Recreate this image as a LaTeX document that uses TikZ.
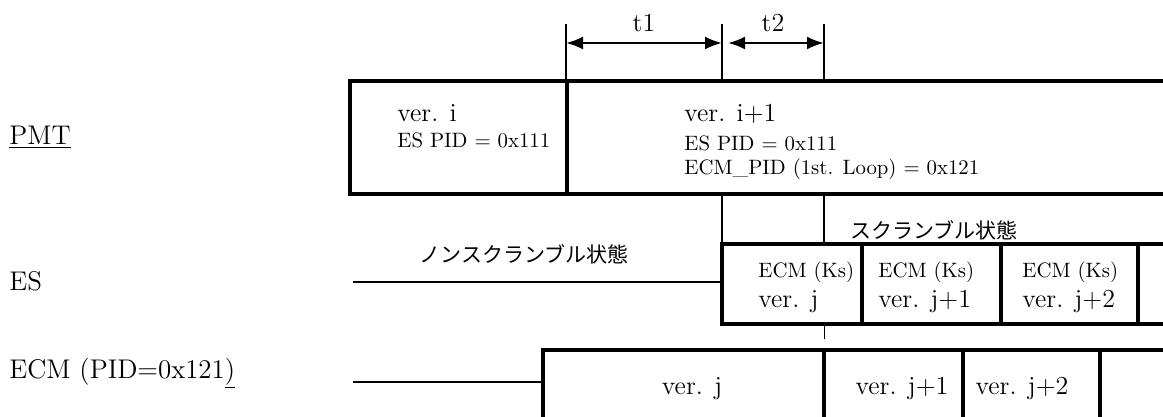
\documentclass[tikz,border=0pt]{standalone}
\usepackage{fontspec}
\newfontfamily\jpfont{Noto Sans CJK JP}
\usetikzlibrary{arrows.meta,positioning}

\begin{document}
\begin{tikzpicture}[
		x=0.5pt, y=-0.5pt,
		big/.style={font=\fontsize{13}{15}\selectfont, inner sep=0pt},
		label/.style={font=\fontsize{13.5}{15}\selectfont, inner sep=0pt},
		small/.style={font=\fontsize{10.4}{12}\selectfont, inner sep=0pt},
		jp/.style={font=\jpfont\fontsize{10.5}{12}\selectfont, inner sep=0pt},
		frame/.style={line width=1.65pt},
		rule/.style={line width=1.3pt},
		tickline/.style={line width=1pt},
		hair/.style={line width=0.5pt},
		dim/.style={{Latex[length=8.5pt,width=6.5pt]}-{Latex[length=8.5pt,width=6.5pt]}, line width=1.2pt},
		]
		\useasboundingbox (0,0) rectangle (1163,417);
		\clip (0,0) rectangle (1163,417);

		% Time marks
		\coordinate (m1) at (566,43);
		\coordinate (m2) at (722,43);
		\coordinate (m3) at (824,43);
		\draw[tickline] (566,24) -- (566,81);
		\draw[tickline] (722,24) -- (722,81) (722,194) -- (722,244);
		\draw[tickline] (824,24) -- (824,81) (824,194) -- (824,244);
		\draw[dim] (m1) -- node[big, above=5pt] (t1) {t1} (m2);
		\draw[dim, shorten <=3pt] (m2) -- node[big, above=5pt] (t2) {t2} (m3);

		% Row labels
		\node[label, anchor=base west] (pmt) at (9,145) {\underline{PMT}};
		\node[label, anchor=base west] (es) at (9,291) {ES};
		\node[label, anchor=base west] (ecm) at (9,378) {ECM (PID=0x121\underline{)}};

		% PMT
		\draw[frame] (1170,81) -| (350,194) -- (1170,194);
		\draw[frame] (567,81) -- (567,194);
		\node[big, anchor=base west] (veri) at (397,122) {ver. i};
		\node[small, anchor=base west] (pidi) at (397,148) {ES PID = 0x111};
		\node[big, anchor=base west] (verii) at (684,122) {ver. i+1};
		\node[small, anchor=base west] (pidii) at (684,151) {ES PID = 0x111};
		\node[small, anchor=base west] (ecmpid) at (684,175) {ECM\_PID (1st. Loop) = 0x121};

		% ES
		\node[jp] (nonscr) at (524,254) {ノンスクランブル状態};
		\node[jp] (scr) at (934,230) {スクランブル状態};
		\draw[rule] (353,282) -- (722,282);
		\draw[frame] (1170,244) -| (722,324) -- (1170,324);
		\foreach \x in {862,1001,1138}
			\draw[frame] (\x,244) -- (\x,324);
		\node[small, anchor=base west] (ksj) at (758,278) {ECM (Ks)};
		\node[big, anchor=base west] (esj) at (758,307) {ver. j};
		\node[small, anchor=base west] (ksjj) at (878,278) {ECM (Ks)};
		\node[big, anchor=base west] (esjj) at (878,307) {ver. j+1};
		\node[small, anchor=base west] (ksjjj) at (1022,278) {ECM (Ks)};
		\node[big, anchor=base west] (esjjj) at (1022,307) {ver. j+2};
		\draw[hair] (824,326) -- (824,339);

		% ECM
		\draw[rule] (353,382) -- (543,382);
		\draw[frame] (543,425) |- (1170,350);
		\foreach \x in {824,963,1100}
			\draw[frame] (\x,350) -- (\x,425);
		\node[big, anchor=base] (ecmj) at (692,394) {ver. j};
		\node[big, anchor=base] (ecmjj) at (902,394) {ver. j+1};
		\node[big, anchor=base] (ecmjjj) at (1022,394) {ver. j+2};
	\end{tikzpicture}
\end{document}
